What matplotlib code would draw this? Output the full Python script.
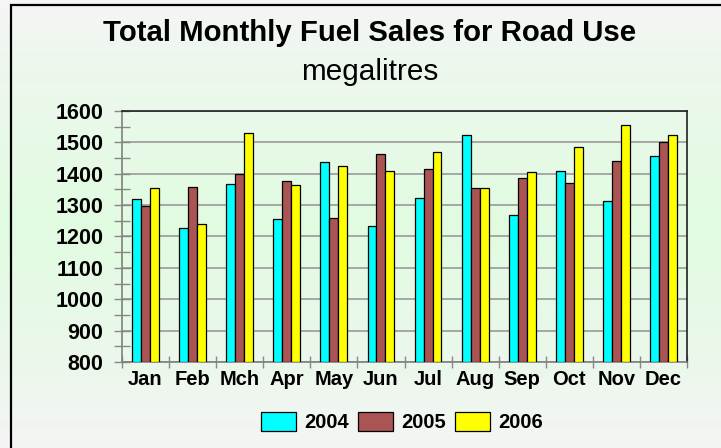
import matplotlib
matplotlib.use('Agg')
import matplotlib.pyplot as plt
import numpy as np
from matplotlib.patches import Rectangle

plt.rcParams['font.family'] = ['Liberation Sans', 'DejaVu Sans']

months = ['Jan', 'Feb', 'Mch', 'Apr', 'May', 'Jun', 'Jul', 'Aug', 'Sep', 'Oct', 'Nov', 'Dec']
sales_2004 = [1318, 1228, 1368, 1255, 1437, 1232, 1322, 1523, 1270, 1410, 1314, 1457]
sales_2005 = [1297, 1357, 1398, 1376, 1258, 1463, 1416, 1356, 1386, 1372, 1440, 1500]
sales_2006 = [1355, 1239, 1531, 1363, 1425, 1408, 1468, 1353, 1404, 1486, 1555, 1525]
years = ['2004', '2005', '2006']
colours = ['#00ffff', '#ab5454', '#ffff00']

fig = plt.figure(figsize=(7.21, 4.48), dpi=100)

# background gradient: grey at top and bottom, pale green in the middle
bg = fig.add_axes([0, 0, 1, 1], zorder=-10)
yy = np.linspace(0, 1, 256)
top = np.array([0.962, 0.962, 0.962])
mid = np.array([0.882, 0.985, 0.882])
bot = np.array([0.960, 0.960, 0.960])
w = np.clip(1 - np.abs(yy - 0.50) / 0.50, 0, 1) ** 0.8
grad = top[None, :] * (1 - w[:, None]) + mid[None, :] * w[:, None]
lower = yy > 0.5
grad[lower] = bot[None, :] * (1 - w[lower, None]) + mid[None, :] * w[lower, None]
bg.imshow(grad[:, None, :], aspect='auto', extent=[0, 1, 0, 1], origin='upper')
bg.set_axis_off()

# outer frame (runs off the right and bottom edges)
fig.patches.append(Rectangle((11 / 721, -0.05), 1.0, 1 - 5 / 448 + 0.05,
                             transform=fig.transFigure, fill=False,
                             edgecolor='black', linewidth=1.6))

ax = fig.add_axes([122 / 721, 86 / 448, 565 / 721, 251 / 448])
ax.patch.set_alpha(0)

x = np.arange(len(months))
bw = 0.19
for i, (vals, col, yr) in enumerate(zip([sales_2004, sales_2005, sales_2006], colours, years)):
    ax.bar(x + (i - 1) * bw, np.array(vals) - 800, bw, bottom=800, color=col,
           edgecolor='black', linewidth=0.9, label=yr, zorder=3)

ax.set_ylim(800, 1600)
ax.set_xlim(-0.5, 11.5)
ax.set_yticks(np.arange(800, 1601, 100))
ax.set_yticks(np.arange(850, 1600, 100), minor=True)
ax.yaxis.grid(True, which='major', color='#9a9a9a', linewidth=1.2, zorder=0)
ax.tick_params(axis='y', which='both', direction='inout', length=11, width=1,
               color='#888888', labelsize=15.5, pad=8)
for lab in ax.get_yticklabels():
    lab.set_fontweight('bold')

ax.set_xticks(np.arange(-0.5, 12, 1))
ax.set_xticklabels([''] * 13)
ax.set_xticks(x, minor=True)
ax.set_xticklabels(months, minor=True, fontsize=14.5, fontweight='bold')
ax.tick_params(axis='x', which='major', direction='inout', length=8, width=1, color='#888888')
ax.tick_params(axis='x', which='minor', length=0, pad=6)

ax.spines['left'].set_color('#808080')
ax.spines['bottom'].set_color('#808080')
ax.spines['top'].set_color('#202020')
ax.spines['right'].set_color('#202020')
for s in ax.spines.values():
    s.set_linewidth(1.2)

fig.text(370 / 721, 1 - 33 / 448, 'Total Monthly Fuel Sales for Road Use', ha='center', va='center',
         fontsize=21.2, fontweight='bold')
fig.text(370 / 721, 1 - 72 / 448, 'megalitres', ha='center', va='center', fontsize=21.4)

fig.legend(loc='center', bbox_to_anchor=(402 / 721, 26 / 448), ncol=3, frameon=False,
           prop={'size': 14.5, 'weight': 'bold'}, handlelength=1.75, handleheight=1.1,
           handletextpad=0.4, columnspacing=0.45)

fig.savefig('out.png', dpi=100)
